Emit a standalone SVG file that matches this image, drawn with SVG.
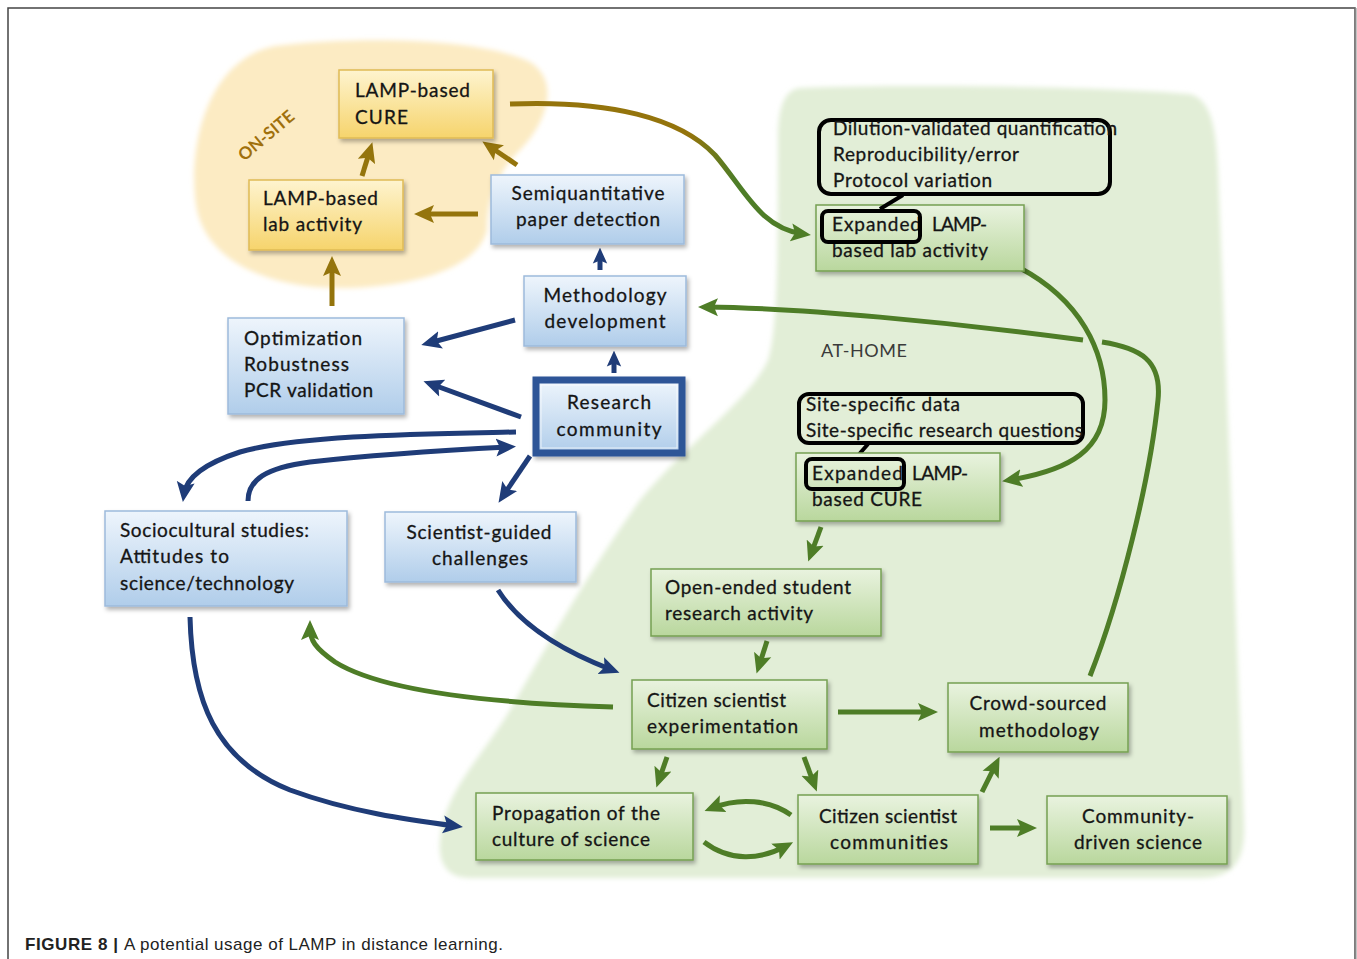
<svg xmlns="http://www.w3.org/2000/svg" width="1357" height="959" viewBox="0 0 1357 959">
<style>
.t{font-family:Lato,"Open Sans","Liberation Sans",sans-serif;font-size:19px;fill:#151515;stroke:#151515;stroke-width:0.3}
.ny{fill:url(#gy);stroke:#dfbb55;stroke-width:1.5}
.nb{fill:url(#gb);stroke:#9dbadb;stroke-width:1.5}
.ng{fill:url(#gg);stroke:#76a052;stroke-width:1.5}
.call{fill:none;stroke:#000;stroke-width:4}
.c{fill:none;stroke-width:5}
.cy{stroke:#94740c}
.cb{stroke:#1f3c78}
.cg{stroke:#4e7d27}
.cap{font-family:"Liberation Sans",Arial,sans-serif;font-size:17px;fill:#222}
</style>
<defs>
<linearGradient id="gy" x1="0" y1="0" x2="0" y2="1"><stop offset="0" stop-color="#fef4cf"/><stop offset="1" stop-color="#f6d46c"/></linearGradient>
<linearGradient id="gb" x1="0" y1="0" x2="0" y2="1"><stop offset="0" stop-color="#eef5fc"/><stop offset="1" stop-color="#b0cdea"/></linearGradient>
<linearGradient id="gg" x1="0" y1="0" x2="0" y2="1"><stop offset="0" stop-color="#e9f3df"/><stop offset="1" stop-color="#b9d79d"/></linearGradient>
<linearGradient id="gyg" gradientUnits="userSpaceOnUse" x1="690" y1="0" x2="735" y2="0"><stop offset="0" stop-color="#94740c"/><stop offset="1" stop-color="#4e7d27"/></linearGradient>
<filter id="sh" x="-10%" y="-10%" width="125%" height="130%"><feDropShadow dx="2" dy="3" stdDeviation="2" flood-color="#000" flood-opacity="0.3"/></filter>
<filter id="soft"><feGaussianBlur stdDeviation="2.5"/></filter>
<marker id="my" viewBox="0 0 10 10" refX="6" refY="5" markerWidth="20" markerHeight="20" markerUnits="userSpaceOnUse" orient="auto"><path d="M0,0.5 L10,5 L0,9.5 L2,5 Z" fill="#94740c"/></marker>
<marker id="mb" viewBox="0 0 10 10" refX="6" refY="5" markerWidth="20" markerHeight="20" markerUnits="userSpaceOnUse" orient="auto"><path d="M0,0.5 L10,5 L0,9.5 L2,5 Z" fill="#1f3c78"/></marker>
<marker id="mbs" viewBox="0 0 10 10" refX="6" refY="5" markerWidth="16" markerHeight="16" markerUnits="userSpaceOnUse" orient="auto"><path d="M0,0.5 L10,5 L0,9.5 L2,5 Z" fill="#1f3c78"/></marker>
<marker id="mg" viewBox="0 0 10 10" refX="6" refY="5" markerWidth="20" markerHeight="20" markerUnits="userSpaceOnUse" orient="auto"><path d="M0,0.5 L10,5 L0,9.5 L2,5 Z" fill="#4e7d27"/></marker>
</defs>
<rect x="0" y="0" width="1357" height="959" fill="#fff"/>
<rect x="8" y="8" width="1347" height="960" fill="none" stroke="#444" stroke-width="1.5"/>
<line x1="1355.5" y1="8" x2="1355.5" y2="959" stroke="#888" stroke-width="2"/>

<g id="regions">
<path id="onsite-region" filter="url(#soft)" fill="#fcebc3" d="M275,46 C360,36 480,38 530,62 C562,82 545,125 520,150 C500,170 487,195 487,230 C480,262 430,285 350,288 C270,290 205,262 196,205 C188,150 205,60 275,46 Z"/>
<path id="athome-region" filter="url(#soft)" fill="#e2eed7" d="M800,88 C900,84 1100,86 1190,94 C1212,100 1216,130 1218,170 L1244,820 C1246,860 1235,878 1200,878 L470,878 C445,878 438,860 440,840 C445,790 480,760 510,710 C550,640 590,570 640,500 C690,440 750,400 768,360 C778,330 778,250 778,140 C778,105 785,90 800,88 Z"/>
<text class="t" transform="translate(270,140) rotate(-40)" text-anchor="middle" style="font-size:17px;font-weight:700;fill:#a0700c;stroke:none">ON-SITE</text>
<text class="t" x="821" y="357" style="font-size:18px;fill:#3a3a3a;stroke:none" textLength="86">AT-HOME</text>
</g>

<g id="connectors">
<path class="c cy" d="M332,306 L332,264" marker-end="url(#my)"/>
<path class="c cy" d="M362,176 L370,150" marker-end="url(#my)"/>
<path class="c cy" d="M517,165 L489,146" marker-end="url(#my)"/>
<path class="c cy" d="M478,214 L422,214" marker-end="url(#my)"/>
<path class="c" stroke="url(#gyg)" d="M510,104 C610,100 680,118 715,155 C745,190 760,228 803,234" marker-end="url(#mg)"/>

<path class="c cb" d="M600,270 L600,254" marker-end="url(#mbs)"/>
<path class="c cb" d="M614,373 L614,357" marker-end="url(#mbs)"/>
<path class="c cb" d="M515,320 L429,343" marker-end="url(#mb)"/>
<path class="c cb" d="M521,417 L431,384" marker-end="url(#mb)"/>
<path class="c cb" d="M516,432 C420,434 300,435 240,452 C200,465 186,480 184,494" marker-end="url(#mb)"/>
<path class="c cb" d="M248,501 C248,480 265,468 310,462 C380,454 450,450 508,447" marker-end="url(#mb)"/>
<path class="c cb" d="M530,456 L503,496" marker-end="url(#mb)"/>
<path class="c cb" d="M498,590 C520,625 560,650 612,670" marker-end="url(#mb)"/>
<path class="c cb" d="M190,617 C192,700 215,760 290,790 C350,812 410,820 455,826" marker-end="url(#mb)"/>

<path class="c cg" d="M1090,676 C1120,600 1150,480 1158,400 C1162,360 1140,348 1102,342"/>
<path class="c cg" d="M1083,340 C950,322 800,308 706,307" marker-end="url(#mg)"/>
<path class="c cg" d="M1020,268 C1080,300 1105,350 1105,400 C1105,450 1070,470 1010,480" marker-end="url(#mg)"/>
<path class="c cg" d="M613,707 C480,703 380,690 335,662 C315,648 310,640 310,628" marker-end="url(#mg)"/>
<path class="c cg" d="M821,527 L811,554" marker-end="url(#mg)"/>
<path class="c cg" d="M767,641 L759,666" marker-end="url(#mg)"/>
<path class="c cg" d="M838,712 L930,712" marker-end="url(#mg)"/>
<path class="c cg" d="M667,757 L659,780" marker-end="url(#mg)"/>
<path class="c cg" d="M804,757 L814,784" marker-end="url(#mg)"/>
<path class="c cg" d="M982,792 L996,764" marker-end="url(#mg)"/>
<path class="c cg" d="M990,828 L1029,828" marker-end="url(#mg)"/>
<path class="c cg" d="M791,815 C770,800 740,797 712,808" marker-end="url(#mg)"/>
<path class="c cg" d="M704,842 C730,862 760,860 786,846" marker-end="url(#mg)"/>
</g>

<g id="n-lamp-cure"><rect class="ny" filter="url(#sh)" x="339" y="70" width="154" height="68"/>
<text class="t" x="355" y="97" textLength="115">LAMP-based</text><text class="t" x="355" y="124" textLength="53">CURE</text></g>

<g id="n-lamp-lab"><rect class="ny" filter="url(#sh)" x="249" y="180" width="154" height="70"/>
<text class="t" x="263" y="205" textLength="115">LAMP-based</text><text class="t" x="263" y="231" textLength="99">lab activity</text></g>

<g id="n-semi"><rect class="nb" filter="url(#sh)" x="491" y="175" width="193" height="69"/>
<text class="t" x="588" y="200" text-anchor="middle" textLength="153">Semiquantitative</text><text class="t" x="588" y="226" text-anchor="middle" textLength="144">paper detection</text></g>

<g id="n-method"><rect class="nb" filter="url(#sh)" x="524" y="276" width="162" height="70"/>
<text class="t" x="605" y="302" text-anchor="middle" textLength="123">Methodology</text><text class="t" x="605" y="328" text-anchor="middle" textLength="121">development</text></g>

<g id="n-optim"><rect class="nb" filter="url(#sh)" x="228" y="318" width="176" height="96"/>
<text class="t" x="244" y="345" textLength="118">Optimization</text><text class="t" x="244" y="371" textLength="105">Robustness</text><text class="t" x="244" y="397" textLength="129">PCR validation</text></g>

<g id="n-research"><rect filter="url(#sh)" x="536" y="380" width="146" height="73" fill="url(#gb)" stroke="#2f5597" stroke-width="7"/>
<rect x="541" y="385" width="136" height="63" fill="none" stroke="#fff" stroke-opacity="0.7" stroke-width="1"/>
<text class="t" x="609" y="409" text-anchor="middle" textLength="84">Research</text><text class="t" x="609" y="436" text-anchor="middle" textLength="105">community</text></g>

<g id="n-socio"><rect class="nb" filter="url(#sh)" x="105" y="511" width="242" height="95"/>
<text class="t" x="120" y="537" textLength="189">Sociocultural studies:</text><text class="t" x="120" y="563" textLength="109">Attitudes to</text><text class="t" x="120" y="590" textLength="174">science/technology</text></g>

<g id="n-scientist"><rect class="nb" filter="url(#sh)" x="385" y="512" width="191" height="70"/>
<text class="t" x="479" y="539" text-anchor="middle" textLength="145">Scientist-guided</text><text class="t" x="480" y="565" text-anchor="middle" textLength="96">challenges</text></g>

<g id="n-exp-lab"><rect class="ng" filter="url(#sh)" x="816" y="205" width="208" height="66"/>
<text class="t" x="832" y="231" textLength="89">Expanded</text><text class="t" x="932" y="231" textLength="55">LAMP-</text><text class="t" x="832" y="257" textLength="156">based lab activity</text>
<rect class="call" x="822" y="211" width="98" height="31" rx="6"/></g>

<g id="n-dilution"><rect class="call" x="819" y="120" width="291" height="74" rx="12"/>
<line x1="903" y1="195" x2="880" y2="209" stroke="#000" stroke-width="4"/>
<text class="t" x="833" y="135" textLength="284">Dilution-validated quantification</text><text class="t" x="833" y="161" textLength="186">Reproducibility/error</text><text class="t" x="833" y="187" textLength="159">Protocol variation</text></g>

<g id="n-site"><rect class="call" x="799" y="394" width="284" height="49" rx="10"/>
<line x1="868" y1="444" x2="855" y2="459" stroke="#000" stroke-width="4"/>
<text class="t" x="806" y="411" textLength="154">Site-specific data</text><text class="t" x="806" y="437" textLength="277">Site-specific research questions</text></g>

<g id="n-exp-cure"><rect class="ng" filter="url(#sh)" x="796" y="453" width="204" height="68"/>
<text class="t" x="812" y="480" textLength="91">Expanded</text><text class="t" x="912" y="480" textLength="56">LAMP-</text><text class="t" x="812" y="506" textLength="110">based CURE</text>
<rect class="call" x="806" y="459" width="98" height="30" rx="6"/></g>

<g id="n-open"><rect class="ng" filter="url(#sh)" x="651" y="569" width="230" height="67"/>
<text class="t" x="665" y="594" textLength="186">Open-ended student</text><text class="t" x="665" y="620" textLength="148">research activity</text></g>

<g id="n-citizen-exp"><rect class="ng" filter="url(#sh)" x="632" y="680" width="195" height="69"/>
<text class="t" x="647" y="707" textLength="139">Citizen scientist</text><text class="t" x="647" y="733" textLength="151">experimentation</text></g>

<g id="n-crowd"><rect class="ng" filter="url(#sh)" x="948" y="683" width="180" height="69"/>
<text class="t" x="1038" y="710" text-anchor="middle" textLength="137">Crowd-sourced</text><text class="t" x="1039" y="737" text-anchor="middle" textLength="120">methodology</text></g>

<g id="n-propagation"><rect class="ng" filter="url(#sh)" x="476" y="793" width="217" height="67"/>
<text class="t" x="492" y="820" textLength="168">Propagation of the</text><text class="t" x="492" y="846" textLength="158">culture of science</text></g>

<g id="n-communities"><rect class="ng" filter="url(#sh)" x="798" y="795" width="180" height="69"/>
<text class="t" x="888" y="823" text-anchor="middle" textLength="138">Citizen scientist</text><text class="t" x="889" y="849" text-anchor="middle" textLength="118">communities</text></g>

<g id="n-community-driven"><rect class="ng" filter="url(#sh)" x="1047" y="796" width="180" height="68"/>
<text class="t" x="1138" y="823" text-anchor="middle" textLength="112">Community-</text><text class="t" x="1138" y="849" text-anchor="middle" textLength="128">driven science</text></g>

<g id="caption">
<text class="cap" x="25" y="950" style="font-weight:700" textLength="93">FIGURE 8 |</text>
<text class="cap" x="124" y="950" textLength="379">A potential usage of LAMP in distance learning.</text>
</g>
</svg>
